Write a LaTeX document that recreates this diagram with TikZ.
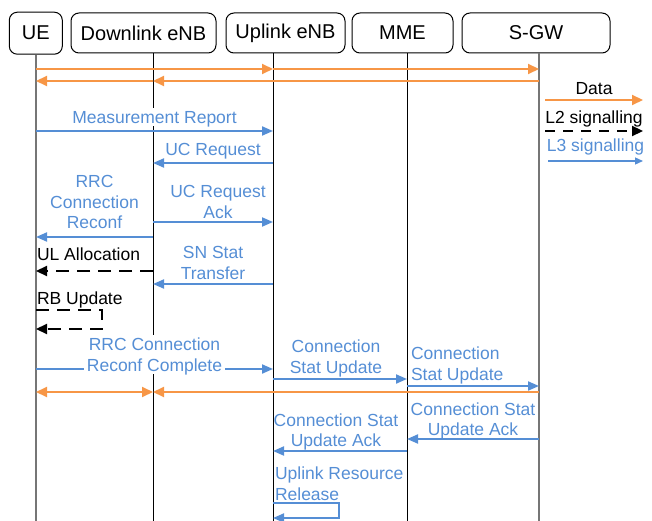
\documentclass[tikz,border=0pt]{standalone}
\usepackage{fontspec}
\setmainfont{Liberation Sans}
\usetikzlibrary{arrows.meta}

\definecolor{msgblue}{RGB}{85,142,213}
\definecolor{dataorange}{RGB}{247,150,70}
\definecolor{lifegray}{RGB}{118,118,118}

\tikzset{
  head/.style={draw, rounded corners=8pt, line width=1pt, minimum height=40pt, font=\fontsize{20}{24}\selectfont},
  life/.style={line width=1pt},
  lifeend/.style={line width=2pt, lifegray},
  data/.style={dataorange, line width=2pt, -{Triangle[length=11pt,width=10pt]}},
  databoth/.style={data, {Triangle[length=11pt,width=10pt]}-{Triangle[length=11pt,width=10pt]}},
  l2/.style={black, line width=2.2pt, dash pattern=on 13pt off 8pt, -{Triangle[length=11pt,width=10pt]}},
  l3/.style={msgblue, line width=2pt, -{Triangle[length=11pt,width=9pt]}},
  lbl/.style={font=\fontsize{17.5}{20.7}\selectfont, text=msgblue, align=center, text depth=0pt, inner sep=0pt, outer sep=0pt},
  cover/.style={fill=white, inner sep=3pt},
}

\begin{document}
\begin{tikzpicture}[x=1pt, y=-1pt]
    \useasboundingbox (0,0) rectangle (652,521);

    % Nodes
    \node[head, minimum width=53pt, minimum height=42pt] (uehead) at (35.8,33.2) {UE};
    \node[head, minimum width=145pt] (dlhead) at (143.5,33) {Downlink eNB};
    \node[head, minimum width=119pt] (ulhead) at (285.5,33) {Uplink eNB};
    \node[head, minimum width=101pt] (mmehead) at (402.5,33) {MME};
    \node[head, minimum width=148pt] (sgwhead) at (536,33) {S-GW};

    % Lifelines
    \coordinate (ue) at (36,0);
    \coordinate (dl) at (153,0);
    \coordinate (ul) at (273,0);
    \coordinate (mme) at (407,0);
    \coordinate (sgw) at (539,0);
    \draw[lifeend] (ue |- uehead.south) -- (ue |- 0,521);
    \draw[life] (dl |- dlhead.south) -- (dl |- 0,521);
    \draw[life] (ul |- ulhead.south) -- (ul |- 0,521);
    \draw[life] (mme |- mmehead.south) -- (mme |- 0,521);
    \draw[lifeend] (sgw |- sgwhead.south) -- (sgw |- 0,521);

    % Legend
    \coordinate (dataA) at (545,100);
    \coordinate (dataB) at (643,100);
    \coordinate (l2A) at (545,131);
    \coordinate (l2B) at (643,131);
    \coordinate (l3A) at (548,161);
    \coordinate (l3B) at (643,161);
    \draw[data] (dataA) -- node[lbl, text=black, above=5.7pt] {Data} (dataB);
    \draw[l2, dash pattern=on 10pt off 8pt] (l2A) -- node[lbl, text=black, above=7.7pt] {L2 signalling} (l2B);
    \draw[l3, line width=1.3pt, -{Triangle[length=8pt,width=7pt]}] (l3A) -- node[lbl, above=9.3pt] {L3 signalling} (l3B);

    % Data bearer
    \draw[data] (ue |- 0,69) -- (ul |- 0,69);
    \draw[data] (ul |- 0,69) -- (sgw |- 0,69);
    \draw[data] (sgw |- 0,81) -- (dl |- 0,81);
    \draw[data] (dl |- 0,81) -- (ue |- 0,81);

    % Arrows
    \draw[l3] (ue |- 0,131) -- node[lbl, cover, above=4.7pt] {Measurement Report} (ul |- 0,131);
    \draw[l3] (ul |- 0,163) -- node[lbl, above=7pt] {UC Request} (dl |- 0,163);
    \draw[l3] (dl |- 0,222) -- node[lbl, above=3.3pt, xshift=5pt] {UC Request\\Ack} (ul |- 0,222);
    \draw[l3] (dl |- 0,237) -- node[lbl, above=8pt] {RRC\\Connection\\Reconf} (ue |- 0,237);
    \draw[l2] (dl |- 0,271) -- node[lbl, text=black, pos=1, anchor=south west, xshift=1pt, yshift=11pt] {UL Allocation} (ue |- 0,271);
    \draw[l3] (ul |- 0,284) -- node[lbl, above=5pt] {SN Stat\\Transfer} (dl |- 0,284);
    \draw[l2] (ue |- 0,310) node[lbl, text=black, anchor=south west, xshift=1pt, yshift=5.7pt] {RB Update}
        -- ++(66pt,0) -- ++(0,-19pt) -- (ue |- 0,329);
    \draw[l3] (ue |- 0,369) -- node[lbl, cover, anchor=south, yshift=-5.3pt] {RRC Connection\\Reconf Complete} (ul |- 0,369);
    \draw[l3] (ul |- 0,379) -- node[lbl, above=5.7pt, xshift=-4pt] {Connection\\Stat Update} (mme |- 0,379);
    \draw[l3] (mme |- 0,386) -- node[lbl, align=left, pos=0, anchor=south west, xshift=4pt, yshift=6pt] {Connection\\Stat Update} (sgw |- 0,386);
    \draw[data] (sgw |- 0,392) -- (dl |- 0,392);
    \draw[databoth] (ue |- 0,392) -- (dl |- 0,392);
    \draw[l3] (sgw |- 0,439) -- node[lbl, above=3.3pt] {Connection Stat\\Update Ack} (mme |- 0,439);
    \draw[l3] (mme |- 0,451) -- node[lbl, above=4.3pt, xshift=-4pt] {Connection Stat\\Update Ack} (ul |- 0,451);
    \draw[l3] (ul |- 0,503) node[lbl, align=left, anchor=south west, xshift=2pt, yshift=3pt] {Uplink Resource\\Release}
        -- ++(66pt,0) -- ++(0,-15pt) -- (ul |- 0,518);
\end{tikzpicture}
\end{document}
